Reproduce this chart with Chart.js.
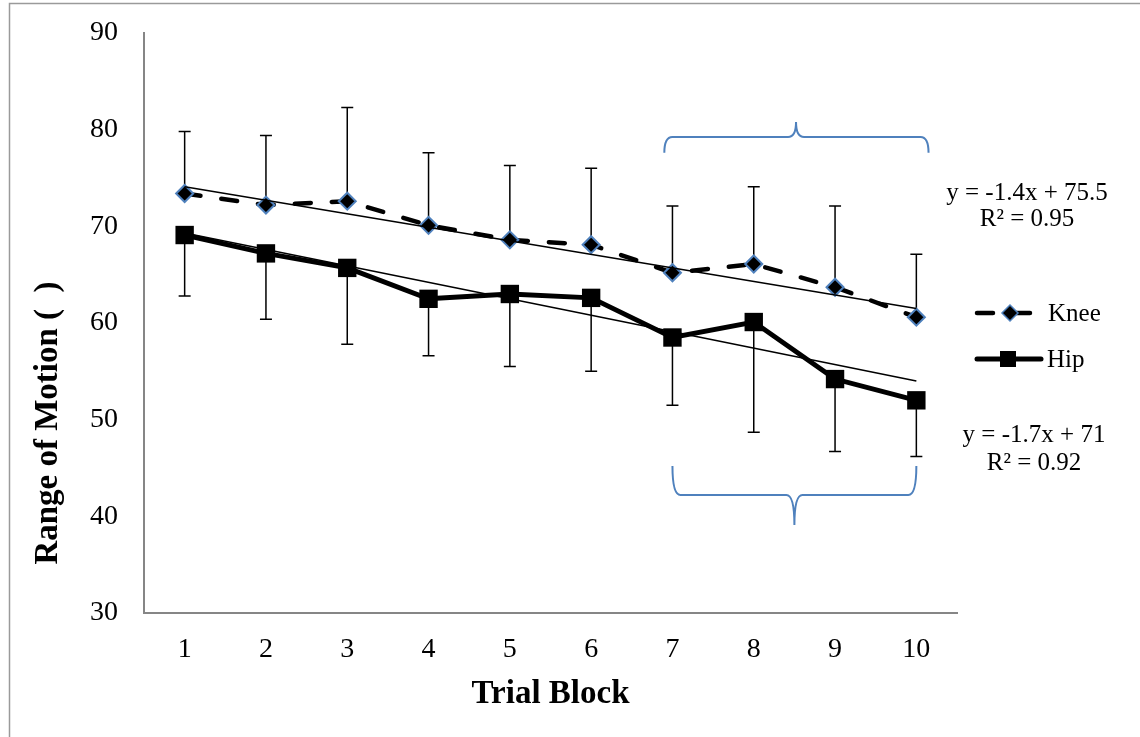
<!DOCTYPE html>
<html>
<head>
<meta charset="utf-8">
<script src="https://cdn.jsdelivr.net/npm/chart.js@4.4.0/dist/chart.umd.min.js"></script>
<style>
  html, body { margin: 0; padding: 0; background: #fff; }
  #wrap { width: 1140px; height: 737px; }
</style>
</head>
<body>
<div id="wrap"><canvas id="romChart" width="1140" height="737"></canvas></div>
<script>
const SERIF = "'Liberation Serif', 'Times New Roman', serif";

// data
const blocks = [1, 2, 3, 4, 5, 6, 7, 8, 9, 10];
const yTicks = [30, 40, 50, 60, 70, 80, 90];
const kneeMean  = [73.4, 72.2, 72.6, 70.1, 68.6, 68.1, 65.2, 66.1, 63.7, 60.6];
const kneeUpper = [79.8, 79.4, 82.3, 77.6, 76.3, 76.0, 72.1, 74.1, 72.1, 67.1];
const hipMean   = [69.1, 67.2, 65.7, 62.5, 63.0, 62.6, 58.5, 60.1, 54.2, 52.0];
const hipLower  = [62.8, 60.4, 57.8, 56.6, 55.5, 55.0, 51.5, 48.7, 46.7, 46.2];

// trendline fits shown on the chart
const kneeFit = { slope: -1.4, intercept: 75.5, r2: '0.95' };
const hipFit  = { slope: -1.7, intercept: 71, r2: '0.92' };

// curly braces (data units): [xLeft, xRight, xTip, yEnds, yMid, yTip]
const braces = [
  [6.9, 10.15, 8.52, 77.6, 79.25, 80.8],
  [7.0, 10.0, 8.5, 45.2, 42.2, 39.1]
];

function fitLine(fit) {
  return [blocks[0], blocks[blocks.length - 1]].map(x => ({ x: x, y: fit.slope * x + fit.intercept }));
}

const decor = {
  id: 'decor',
  beforeDraw(chart) {
    const ctx = chart.ctx;
    ctx.save();
    ctx.fillStyle = '#fff';
    ctx.fillRect(0, 0, chart.width, chart.height);
    ctx.strokeStyle = '#9a9a9a';
    ctx.lineWidth = 1.5;
    ctx.strokeRect(9.5, 3.5, 1300, 900);
    ctx.restore();
  },
  beforeDatasetsDraw(chart) {
    const ctx = chart.ctx;
    const xs = chart.scales.x, ys = chart.scales.y;
    ctx.save();
    ctx.strokeStyle = '#000';
    ctx.lineWidth = 1.5;
    const bar = (x, y0, y1) => {
      const px = xs.getPixelForValue(x);
      const p0 = ys.getPixelForValue(y0), p1 = ys.getPixelForValue(y1);
      ctx.beginPath();
      ctx.moveTo(px, p0); ctx.lineTo(px, p1);
      ctx.moveTo(px - 6, p1); ctx.lineTo(px + 6, p1);
      ctx.stroke();
    };
    blocks.forEach((b, i) => {
      bar(b, kneeMean[i], kneeUpper[i]);
      bar(b, hipMean[i], hipLower[i]);
    });
    ctx.restore();
  },
  afterDraw(chart) {
    const ctx = chart.ctx;
    const xs = chart.scales.x, ys = chart.scales.y;
    ctx.save();

    // braces
    ctx.strokeStyle = '#4f81bd';
    ctx.lineWidth = 2;
    braces.forEach(br => {
      const xl = xs.getPixelForValue(br[0]), xr = xs.getPixelForValue(br[1]), xt = xs.getPixelForValue(br[2]);
      const ye = ys.getPixelForValue(br[3]), ym = ys.getPixelForValue(br[4]), yt = ys.getPixelForValue(br[5]);
      const r = 8;
      ctx.beginPath();
      ctx.moveTo(xl, ye);
      ctx.quadraticCurveTo(xl, ym, xl + r, ym);
      ctx.lineTo(xt - r, ym);
      ctx.quadraticCurveTo(xt, ym, xt, yt);
      ctx.quadraticCurveTo(xt, ym, xt + r, ym);
      ctx.lineTo(xr - r, ym);
      ctx.quadraticCurveTo(xr, ym, xr, ye);
      ctx.stroke();
    });

    // equations
    ctx.fillStyle = '#000';
    ctx.font = '25px ' + SERIF;
    ctx.textAlign = 'center';
    ctx.textBaseline = 'middle';
    ctx.fillText('y = ' + kneeFit.slope + 'x + ' + kneeFit.intercept, 1027, 193);
    ctx.fillText('R\u00b2 = ' + kneeFit.r2, 1027, 219);
    ctx.fillText('y = ' + hipFit.slope + 'x + ' + hipFit.intercept, 1034, 435);
    ctx.fillText('R\u00b2 = ' + hipFit.r2, 1034, 463);

    // legend
    ctx.textAlign = 'left';
    ctx.strokeStyle = '#000';
    ctx.lineCap = 'round';
    ctx.lineWidth = 4.5;
    ctx.setLineDash([16, 21]);
    ctx.beginPath(); ctx.moveTo(977, 313); ctx.lineTo(1034, 313); ctx.stroke();
    ctx.setLineDash([]);
    ctx.beginPath();
    ctx.moveTo(1010, 305); ctx.lineTo(1018, 313); ctx.lineTo(1010, 321); ctx.lineTo(1002, 313); ctx.closePath();
    ctx.fillStyle = '#000'; ctx.fill();
    ctx.lineWidth = 1.5; ctx.strokeStyle = '#4f81bd'; ctx.stroke();
    ctx.fillStyle = '#000';
    ctx.fillText('Knee', 1048, 314);

    ctx.strokeStyle = '#000';
    ctx.lineWidth = 5;
    ctx.beginPath(); ctx.moveTo(977, 359); ctx.lineTo(1041, 359); ctx.stroke();
    ctx.fillRect(1000, 351, 16, 16);
    ctx.fillText('Hip', 1047, 360);

    // axis titles
    ctx.font = 'bold 33px ' + SERIF;
    ctx.textAlign = 'center';
    ctx.fillText('Trial Block', (chart.chartArea.left + chart.chartArea.right) / 2, 694);
    ctx.translate(48, 423);
    ctx.rotate(-Math.PI / 2);
    ctx.fillText('Range of Motion (\u2002)', 0, 0);
    ctx.restore();
  }
};

const ctx = document.getElementById('romChart').getContext('2d');
new Chart(ctx, {
  type: 'line',
  data: {
    datasets: [
      {
        label: 'Knee',
        data: blocks.map((b, i) => ({ x: b, y: kneeMean[i] })),
        borderColor: '#000',
        borderWidth: 4.5,
        borderDash: [16, 21],
        borderCapStyle: 'round',
        pointStyle: 'rectRot',
        pointRadius: 8.5,
        pointBackgroundColor: '#000',
        pointBorderColor: '#4f81bd',
        pointBorderWidth: 2,
        order: 2
      },
      {
        label: 'Hip',
        data: blocks.map((b, i) => ({ x: b, y: hipMean[i] })),
        borderColor: '#000',
        borderWidth: 5,
        pointStyle: 'rect',
        pointRadius: 13,
        pointBackgroundColor: '#000',
        pointBorderColor: '#000',
        pointBorderWidth: 0,
        order: 3
      },
      {
        label: 'Knee trend',
        data: fitLine(kneeFit),
        borderColor: '#000',
        borderWidth: 1.5,
        pointRadius: 0,
        order: 1
      },
      {
        label: 'Hip trend',
        data: fitLine(hipFit),
        borderColor: '#000',
        borderWidth: 1.5,
        pointRadius: 0,
        order: 1
      }
    ]
  },
  options: {
    responsive: false,
    devicePixelRatio: 1,
    animation: false,
    layout: { padding: { top: 33, right: 183, left: 0, bottom: 0 } },
    plugins: { legend: { display: false }, tooltip: { enabled: false } },
    scales: {
      x: {
        type: 'linear',
        min: 0.5,
        max: 10.5,
        afterBuildTicks: s => { s.ticks = blocks.map(v => ({ value: v })); },
        afterFit: s => { s.height = 124; s.paddingLeft = 0; s.paddingRight = 0; },
        ticks: { color: '#000', font: { family: SERIF, size: 28 }, padding: 20 },
        grid: { display: false, drawTicks: false },
        border: { display: true, color: '#868686', width: 2 }
      },
      y: {
        min: 30,
        max: 90,
        afterBuildTicks: s => { s.ticks = yTicks.map(v => ({ value: v })); },
        afterFit: s => { s.width = 144; s.paddingTop = 0; s.paddingBottom = 0; },
        ticks: { color: '#000', font: { family: SERIF, size: 28 }, padding: 26 },
        grid: { display: false, drawTicks: false },
        border: { display: true, color: '#868686', width: 2 }
      }
    }
  },
  plugins: [decor]
});
</script>
</body>
</html>
